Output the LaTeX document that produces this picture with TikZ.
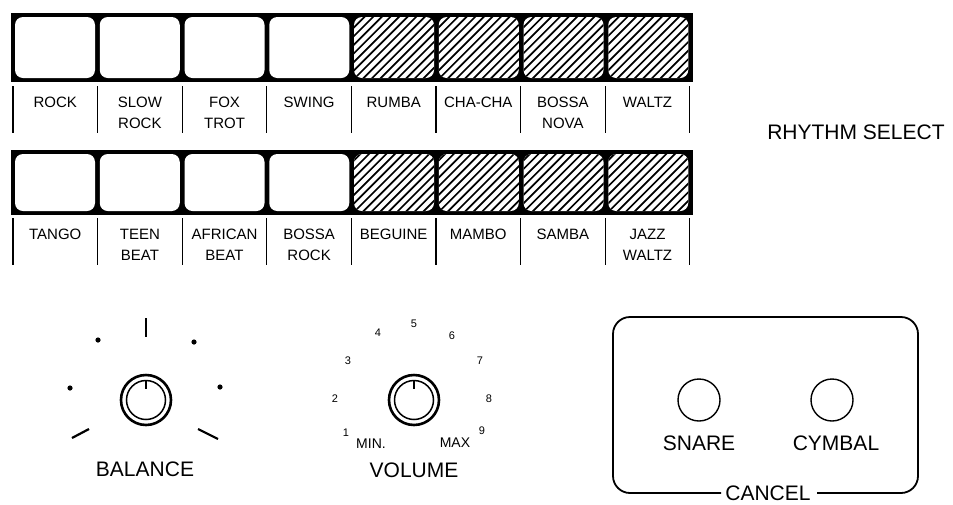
\documentclass[tikz,border=0pt]{standalone}
\usepackage{fontspec}
\setmainfont{Liberation Sans}
\begin{document}
\begin{tikzpicture}[x=1pt,y=-1pt,
  lab/.style={font=\fontsize{15}{21}\selectfont, align=center, anchor=north, inner sep=0pt},
  big/.style={font=\fontsize{21}{24}\selectfont, inner sep=0pt},
  mid/.style={font=\fontsize{14}{16}\selectfont, inner sep=0pt},
  num/.style={font=\fontsize{11}{12}\selectfont, inner sep=0pt},
  divider/.style={line width=1.3pt},
  hatchline/.style={line width=1.7pt},
  knobouter/.style={line width=2.6pt},
  knobinner/.style={line width=1.5pt},
  tick/.style={line width=2.2pt}]
\useasboundingbox (0,0) rectangle (953,504);

% ---------- row 1 ----------
\fill (11,13) rectangle (693,82);
\foreach \i in {0,...,7} {
  \pgfmathsetmacro\bx{15+84.75*\i}
  \fill[white, rounded corners=8pt] (\bx,17) rectangle ++(80,61);
}
\foreach \i in {4,...,7} {
  \pgfmathsetmacro\bx{15+84.75*\i}
  \begin{scope}
    \clip[rounded corners=8pt] (\bx,17) rectangle ++(80,61);
    \foreach \k in {-8,...,10} \draw[hatchline] ({\bx+\k*8.6},79) -- ++(64,-64);
  \end{scope}
}
\foreach \i in {0,...,8} \draw[divider] ({13+84.6*\i},86) -- ++(0,47);
\foreach \t [count=\i from 0] in {ROCK,{SLOW\\ROCK},{FOX\\TROT},SWING,RUMBA,CHA-CHA,{BOSSA\\NOVA},WALTZ}
  \node[lab] (ta\i) at ({13+84.6*(\i+0.5)},96.6) {\t};

% ---------- row 2 ----------
\fill (11,150) rectangle (693,215);
\foreach \i in {0,...,7} {
  \pgfmathsetmacro\bx{15+84.75*\i}
  \fill[white, rounded corners=8pt] (\bx,154) rectangle ++(80,57);
}
\foreach \i in {4,...,7} {
  \pgfmathsetmacro\bx{15+84.75*\i}
  \begin{scope}
    \clip[rounded corners=8pt] (\bx,154) rectangle ++(80,57);
    \foreach \k in {-8,...,10} \draw[hatchline] ({\bx+\k*8.6},212) -- ++(60,-60);
  \end{scope}
}
\foreach \i in {0,...,8} \draw[divider] ({13+84.6*\i},218) -- ++(0,47);
\foreach \t [count=\i from 0] in {TANGO,{TEEN\\BEAT},{AFRICAN\\BEAT},{BOSSA\\ROCK},BEGUINE,MAMBO,SAMBA,{JAZZ\\WALTZ}}
  \node[lab] (tb\i) at ({13+84.6*(\i+0.5)},229) {\t};

\node[big] (rhythm) at (856,132.5) {RHYTHM SELECT};

% ---------- balance ----------
\draw[knobouter] (146,400) circle (25);
\draw[knobinner] (146,400) circle (19.5);
\draw[line width=2.4pt] (146,380.5) -- (146,389);
\draw[tick] (146,318) -- (146,337);
\fill (98,340) circle (2.6);
\fill (194,342) circle (2.6);
\fill (70,388) circle (2.6);
\fill (220,387) circle (2.6);
\draw[tick] (72,438) -- (89,429);
\draw[tick] (198,429) -- (218,439);
\node[big] (balance) at (145,469) {BALANCE};

% ---------- volume ----------
\draw[knobouter] (414,400) circle (25);
\draw[knobinner] (414,400) circle (19.5);
\draw[line width=2.4pt] (414,380.5) -- (414,389);
\node[num] (v1) at (346,433) {1};
\node[num] (v2) at (335,399) {2};
\node[num] (v3) at (348,361) {3};
\node[num] (v4) at (378,333) {4};
\node[num] (v5) at (414,324) {5};
\node[num] (v6) at (452,336) {6};
\node[num] (v7) at (480,361) {7};
\node[num] (v8) at (489,399) {8};
\node[num] (v9) at (482,431) {9};
\node[mid] (min) at (371,444) {MIN.};
\node[mid] (max) at (455,443) {MAX};
\node[big] (volume) at (414,470) {VOLUME};

% ---------- cancel ----------
\node[big] (cancel) at (768,493) {CANCEL};
\draw[line width=1.8pt, rounded corners=17pt] (721,493) -- (613,493) -- (613,317) -- (918,317) -- (918,493) -- (817,493);
\draw[line width=1.4pt] (699,400) circle (21);
\draw[line width=1.4pt] (832,400) circle (21);
\node[big] (snare) at (699,443) {SNARE};
\node[big] (cymbal) at (836,443) {CYMBAL};
\end{tikzpicture}
\end{document}
